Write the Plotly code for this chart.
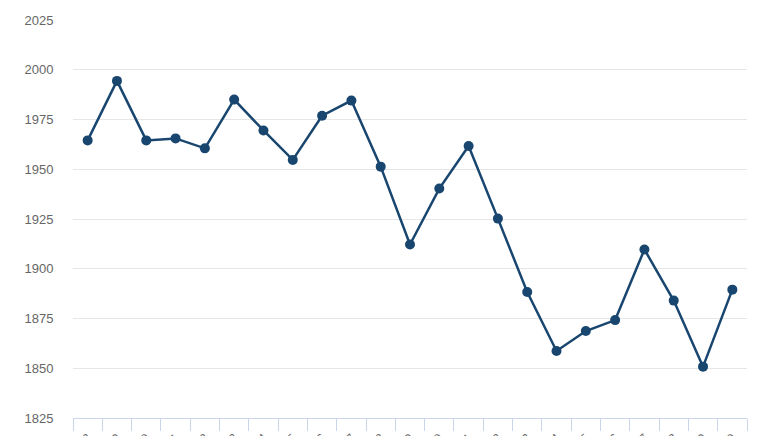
import plotly.graph_objects as go

categories = [str(y) for y in range(1998, 2021)]
values = [1964.5, 1994.4, 1964.5, 1965.5, 1960.5, 1985.0, 1969.5, 1954.7, 1976.9, 1984.5,
          1951.3, 1912.2, 1940.3, 1961.7, 1925.2, 1888.3, 1858.7, 1868.7, 1874.2, 1909.7,
          1884.0, 1850.8, 1889.5]
y_ticks = [1825, 1850, 1875, 1900, 1925, 1950, 1975, 2000, 2025]

color = "#19466f"

fig = go.Figure(go.Scatter(
    x=categories, y=values, mode="lines+markers",
    line=dict(color=color, width=2.5),
    marker=dict(color=color, size=10),
    hoverinfo="x+y",
))

fig.update_layout(
    width=771, height=428,
    margin=dict(l=65, r=32, t=12, b=18),
    paper_bgcolor="white", plot_bgcolor="white",
    showlegend=False,
    font=dict(family="Liberation Sans, Arial, sans-serif", color="#666666"),
)
fig.update_xaxes(
    type="category", range=[-0.5, len(categories) - 0.5],
    tickson="boundaries", ticks="outside", ticklen=12, tickcolor="#ccd6eb", tickwidth=1,
    showline=True, linecolor="#ccd6eb", linewidth=1,
    showgrid=False, tickangle=-45, tickfont=dict(size=12, color="#666666"),
    ticklabelstandoff=7,
    automargin=False,
)
fig.update_yaxes(
    range=[1825, 2025], tickvals=y_ticks, ticktext=[str(v) for v in y_ticks],
    showgrid=True, gridcolor="#e6e6e6", gridwidth=1, zeroline=False,
    ticks="outside", ticklen=16, tickcolor="rgba(0,0,0,0)",
    tickfont=dict(size=13, color="#666666"), automargin=False,
)

fig.write_html("out.html")
